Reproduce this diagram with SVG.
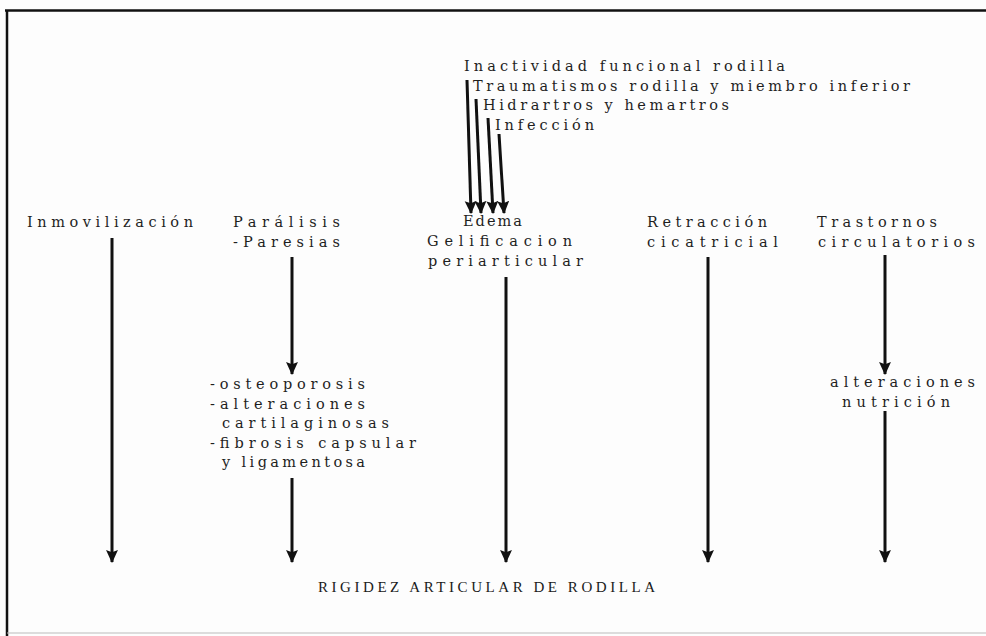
<svg xmlns="http://www.w3.org/2000/svg" width="986" height="636" viewBox="0 0 986 636">
<style>
.t{font-family:"DejaVu Serif","Liberation Serif",serif;font-size:14.5px;fill:#1f1f1f;}
.r{font-family:"Liberation Serif","DejaVu Serif",serif;font-size:15px;fill:#1a1a1a;}
.c{stroke:#111;stroke-width:3;fill:none;marker-end:url(#ah);}
</style>
<defs>
<marker id="ah" markerUnits="userSpaceOnUse" markerWidth="13" markerHeight="13" viewBox="0 0 12 12" refX="11" refY="6" orient="auto">
<path d="M0,0.5 L12,6 L0,11.5 L2,6 z" fill="#111"/>
</marker>
</defs>
<rect width="986" height="636" fill="#fdfdfd"/>
<g id="frame" stroke="#111" fill="none">
<path d="M5,10.5 H986" stroke-width="2.5"/>
<path d="M7,10 V636" stroke-width="2.5"/>
<path d="M7,633 H986" stroke-width="1" stroke="#bbb"/>
</g>
<g id="connectors">
<path class="c" d="M467,80 L471,213"/>
<path class="c" d="M476,99 L481,213"/>
<path class="c" d="M488,118 L493,213"/>
<path class="c" d="M499,134 L504,213"/>
<path class="c" d="M112,238 V562"/>
<path class="c" d="M292,257 V374"/>
<path class="c" d="M292,478 V562"/>
<path class="c" d="M506,277 V562"/>
<path class="c" d="M708,257 V562"/>
<path class="c" d="M885,255 V374"/>
<path class="c" d="M885,411 V562"/>
</g>
<g id="n-inactividad"><text class="t" x="464" y="71" textLength="321" lengthAdjust="spacing">Inactividad funcional rodilla</text></g>
<g id="n-traumatismos"><text class="t" x="473" y="91" textLength="437" lengthAdjust="spacing">Traumatismos rodilla y miembro inferior</text></g>
<g id="n-hidrartros"><text class="t" x="483" y="110" textLength="246" lengthAdjust="spacing">Hidrartros y hemartros</text></g>
<g id="n-infeccion"><text class="t" x="495" y="130" textLength="99" lengthAdjust="spacing">Infección</text></g>
<g id="n-inmovilizacion"><text class="t" x="27" y="227" textLength="166" lengthAdjust="spacing">Inmovilización</text></g>
<g id="n-paralisis">
<text class="t" x="233" y="227" textLength="107" lengthAdjust="spacing">Parálisis</text>
<text class="t" x="233" y="247" textLength="107" lengthAdjust="spacing">-Paresias</text>
</g>
<g id="n-edema">
<text class="t" x="463" y="226" textLength="59" lengthAdjust="spacing">Edema</text>
<text class="t" x="427" y="246" textLength="145" lengthAdjust="spacing">Gelificacion</text>
<text class="t" x="428" y="266" textLength="155" lengthAdjust="spacing">periarticular</text>
</g>
<g id="n-retraccion">
<text class="t" x="647" y="227" textLength="120" lengthAdjust="spacing">Retracción</text>
<text class="t" x="647" y="247" textLength="131" lengthAdjust="spacing">cicatricial</text>
</g>
<g id="n-trastornos">
<text class="t" x="817" y="227" textLength="120" lengthAdjust="spacing">Trastornos</text>
<text class="t" x="818" y="247" textLength="157" lengthAdjust="spacing">circulatorios</text>
</g>
<g id="n-osteoporosis">
<text class="t" x="210" y="389" textLength="155" lengthAdjust="spacing">-osteoporosis</text>
<text class="t" x="210" y="409" textLength="155" lengthAdjust="spacing">-alteraciones</text>
<text class="t" x="222" y="428" textLength="167" lengthAdjust="spacing">cartilaginosas</text>
<text class="t" x="210" y="448" textLength="206" lengthAdjust="spacing">-fibrosis capsular</text>
<text class="t" x="222" y="467" textLength="143" lengthAdjust="spacing">y ligamentosa</text>
</g>
<g id="n-nutricion">
<text class="t" x="830" y="387" textLength="145" lengthAdjust="spacing">alteraciones</text>
<text class="t" x="842" y="407" textLength="108" lengthAdjust="spacing">nutrición</text>
</g>
<g id="n-rigidez"><text class="r" x="318" y="592" textLength="337" lengthAdjust="spacing">RIGIDEZ ARTICULAR DE RODILLA</text></g>
</svg>
